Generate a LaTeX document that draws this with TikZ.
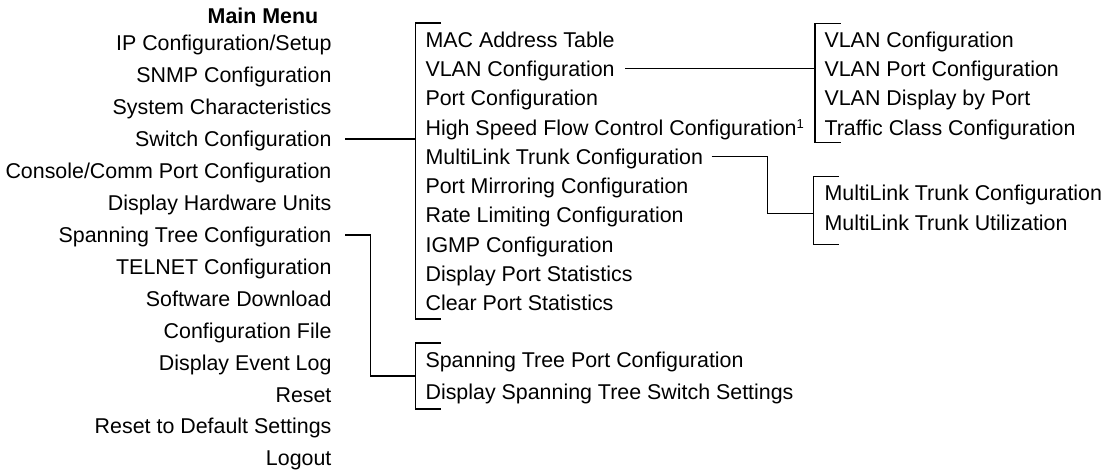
\documentclass[tikz,border=0pt]{standalone}
\usepackage{fontspec}
\setmainfont{Liberation Sans}

\begin{document}
\begin{tikzpicture}[x=0.5pt, y=-0.5pt, line width=0.55pt,
        entry/.style={inner sep=0pt, text height=7.66pt, text depth=0pt,
            font=\fontsize{10.7pt}{12pt}\selectfont}]
            \useasboundingbox (0,0) rectangle (1108,472);

            \node[entry, font=\fontsize{10.7pt}{12pt}\selectfont\bfseries] (title) at (263,16) {Main Menu};

            % main menu, right aligned
            \foreach \n/\y/\t in {m1/43/{IP Configuration/Setup}, m2/75/SNMP Configuration,
                m3/107/System Characteristics, m4/139/Switch Configuration,
                m5/171/{Console/Comm Port Configuration}, m6/203/Display Hardware Units,
                m7/235/Spanning Tree Configuration, m8/267/TELNET Configuration,
                m9/299/Software Download, m10/331/Configuration File,
                m11/362.5/Display Event Log, m12/394.5/Reset,
                m13/426/Reset to Default Settings, m14/458/Logout} {
                \node[entry, anchor=east] (\n) at (332,\y) {\t};
            }

            % switch configuration menu
            \foreach \n/\y/\t in {s1/39.5/MAC Address Table, s2/68.8/VLAN Configuration,
                s3/98.1/Port Configuration,
                s4/127.4/{High Speed Flow Control Configuration\raisebox{3.4pt}{\fontsize{6.5pt}{7pt}\selectfont 1}},
                s5/156.7/MultiLink Trunk Configuration, s6/186/Port Mirroring Configuration,
                s7/215.3/Rate Limiting Configuration, s8/244.6/IGMP Configuration,
                s9/273.9/Display Port Statistics, s10/303.2/Clear Port Statistics} {
                \node[entry, anchor=west] (\n) at (425,\y) {\t};
            }

            % spanning tree menu
            \node[entry, anchor=west] (t1) at (425,360.3) {Spanning Tree Port Configuration};
            \node[entry, anchor=west] (t2) at (425,392) {Display Spanning Tree Switch Settings};

            % vlan menu
            \foreach \n/\y/\t in {v1/39.5/VLAN Configuration, v2/68.9/VLAN Port Configuration,
                v3/98.3/VLAN Display by Port, v4/127.7/Traffic Class Configuration} {
                \node[entry, anchor=west] (\n) at (824,\y) {\t};
            }

            % multilink trunk menu
            \node[entry, anchor=west] (k1) at (824,193) {MultiLink Trunk Configuration};
            \node[entry, anchor=west] (k2) at (824,222.5) {MultiLink Trunk Utilization};

            % brackets
            \coordinate (swtop) at (415.5,23);
            \coordinate (swbot) at (415.5,319);
            \coordinate (sttop) at (415.5,343);
            \coordinate (stbot) at (415.5,409);
            \coordinate (stjoin) at (415.5,376);
            \coordinate (vltop) at (815,23.3);
            \coordinate (vlbot) at (815,142.7);
            \coordinate (mltop) at (813.5,176.7);
            \coordinate (mlbot) at (813.5,244.3);
            \coordinate (mljoin) at (813.5,213.3);

            \foreach \a/\b in {swtop/swbot, sttop/stbot, vltop/vlbot, mltop/mlbot} {
                \draw ([xshift=12.75pt]\a) -- (\a) -- (\b) -- ([xshift=12.75pt]\b);
            }

            \draw ([xshift=6.5pt]m4.east) -- (m4.east -| swtop);
            \draw ([xshift=6.5pt]m7.east) -- ++(12.75pt,0) |- (stjoin);
            \draw ([xshift=5pt]s2.east) -- (s2.east -| vltop);
            \draw ([xshift=4pt]s5.east) -- ++(27.8pt,0) |- (mljoin);
        \end{tikzpicture}
\end{document}
